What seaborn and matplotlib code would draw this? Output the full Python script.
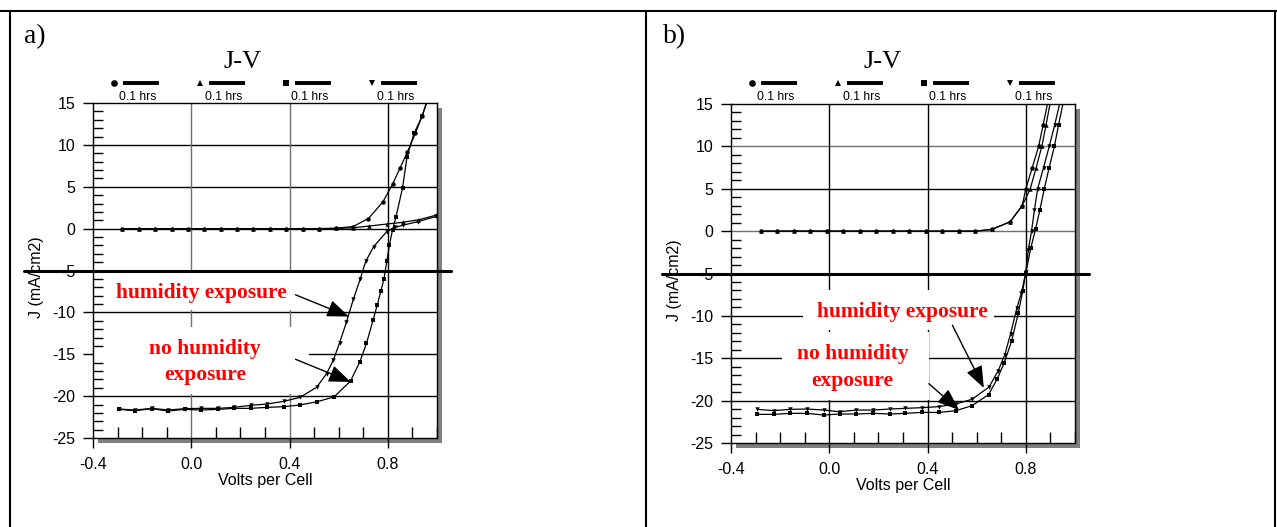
import matplotlib
matplotlib.use("Agg")
import matplotlib.pyplot as plt
import matplotlib.transforms as mtransforms
from matplotlib.lines import Line2D
from matplotlib.patches import Rectangle
from matplotlib.ticker import FixedLocator, MultipleLocator, FormatStrFormatter
import pandas as pd
import seaborn as sns

# ---------------- panel a : J-V sweeps (V per cell, J in mA/cm2) ----------------
a_dark_dry_v = [-0.28, -0.213, -0.147, -0.08, -0.013, 0.053, 0.12, 0.187, 0.253, 0.32,
                0.387, 0.453, 0.52, 0.59, 0.658, 0.721, 0.78, 0.819, 0.849, 0.879,
                0.912, 0.939, 0.96]
a_dark_dry_j = [0, 0, 0, 0, 0, 0, 0, 0, 0, 0,
                0, 0, 0, 0.05, 0.25, 1.2, 3.2, 5.3, 7.2, 9.1,
                11.4, 13.4, 15.2]

a_dark_wet_v = [-0.28, -0.213, -0.147, -0.08, -0.013, 0.053, 0.12, 0.187, 0.253, 0.32,
                0.387, 0.453, 0.52, 0.59, 0.658, 0.722, 0.796, 0.86, 0.924, 0.996]
a_dark_wet_j = [0, 0, 0, 0, 0, 0, 0, 0, 0, 0,
                0, 0, 0, 0.02, 0.1, 0.3, 0.55, 0.75, 1.05, 1.6]

a_light_wet_v = [-0.293, -0.229, -0.16, -0.095, -0.027, 0.041, 0.109, 0.173, 0.241, 0.309,
                 0.377, 0.442, 0.51, 0.551, 0.578, 0.604, 0.631, 0.66, 0.687, 0.71,
                 0.742, 0.795, 0.83, 0.86, 0.924, 0.996]
a_light_wet_j = [-21.54, -21.66, -21.46, -21.66, -21.50, -21.46, -21.46, -21.34, -21.10, -20.94,
                 -20.62, -20.15, -18.95, -17.3, -15.7, -13.6, -11.2, -8.4, -6.06, -3.9,
                 -2.16, -0.37, 0.15, 0.4, 0.85, 1.45]

a_light_dry_v = [-0.293, -0.229, -0.16, -0.095, -0.027, 0.041, 0.109, 0.173, 0.241, 0.309,
                 0.377, 0.442, 0.513, 0.581, 0.648, 0.686, 0.713, 0.74, 0.757, 0.772,
                 0.784, 0.796, 0.806, 0.819, 0.833, 0.86, 0.878, 0.907, 0.939, 0.96]
a_light_dry_j = [-21.58, -21.74, -21.50, -21.78, -21.58, -21.66, -21.58, -21.46, -21.46, -21.34,
                 -21.26, -21.06, -20.66, -20.1, -18.2, -15.9, -13.7, -10.9, -9.1, -7.4,
                 -6.0, -3.9, -2.0, -0.15, 1.4, 4.9, 8.6, 11.4, 13.4, 15.3]

# ---------------- panel b ----------------
b_dark_dry_v = [-0.279, -0.212, -0.144, -0.078, -0.009, 0.056, 0.124, 0.19, 0.258, 0.325,
                0.393, 0.46, 0.528, 0.595, 0.661, 0.736, 0.785, 0.80, 0.826, 0.852,
                0.87, 0.89]
b_dark_dry_j = [0, 0, 0, 0, 0, 0, 0, 0, 0, 0,
                0, 0, 0, 0, 0.2, 1.1, 3.0, 5.0, 7.5, 10.0,
                12.5, 15.3]

b_dark_wet_v = [-0.279, -0.212, -0.144, -0.078, -0.009, 0.056, 0.124, 0.19, 0.258, 0.325,
                0.393, 0.46, 0.528, 0.595, 0.661, 0.736, 0.785, 0.818, 0.842, 0.865,
                0.882, 0.90]
b_dark_wet_j = [0, 0, 0, 0, 0, 0, 0, 0, 0, 0,
                0, 0, 0, 0, 0.2, 1.1, 3.0, 5.0, 7.5, 10.0,
                12.5, 15.3]

b_light_wet_v = [-0.293, -0.227, -0.159, -0.091, -0.023, 0.042, 0.110, 0.178, 0.246, 0.310,
                 0.378, 0.446, 0.514, 0.58, 0.65, 0.687, 0.714, 0.738, 0.763, 0.782,
                 0.80, 0.81, 0.823, 0.835, 0.848, 0.872, 0.895, 0.917, 0.939]
b_light_wet_j = [-21.03, -21.18, -21.03, -20.99, -21.11, -21.31, -21.11, -21.11, -20.99, -20.91,
                 -20.83, -20.71, -20.4, -19.85, -18.4, -16.5, -14.6, -12.1, -9.1, -7.3,
                 -4.8, -2.2, 0.0, 2.5, 5.0, 7.5, 10.0, 12.5, 15.2]

b_light_dry_v = [-0.293, -0.227, -0.159, -0.091, -0.023, 0.042, 0.110, 0.178, 0.246, 0.310,
                 0.378, 0.446, 0.514, 0.58, 0.648, 0.684, 0.711, 0.742, 0.769, 0.787,
                 0.80, 0.82, 0.84, 0.857, 0.875, 0.895, 0.916, 0.933, 0.952]
b_light_dry_j = [-21.62, -21.62, -21.50, -21.50, -21.70, -21.58, -21.58, -21.50, -21.58, -21.50,
                 -21.39, -21.39, -21.2, -20.6, -19.3, -17.4, -15.6, -13.0, -9.7, -7.1,
                 -4.9, -2.0, 0.3, 2.5, 5.0, 7.5, 10.0, 12.5, 15.2]

# axis and legend text
x_ticks = [-0.4, 0.0, 0.4, 0.8]
y_ticks = [-25, -20, -15, -10, -5, 0, 5, 10, 15]
legend_labels = ["0.1 hrs", "0.1 hrs", "0.1 hrs", "0.1 hrs"]
series_names = ["dark, no humidity", "dark, humidity", "light, no humidity", "light, humidity"]
panel_tags = ["a)", "b)"]

# ---------------- styling ----------------
sns.set_theme(style="white")
plt.rcParams["font.family"] = ["Liberation Sans", "DejaVu Sans"]
plt.rcParams["axes.unicode_minus"] = False
SERIF = ["Liberation Serif", "DejaVu Serif"]
RED = "#ff0000"
GRAY = "#707070"
SHADOW = "#7f7f7f"
MARKERS = dict(zip(series_names, ["o", "^", "s", "v"]))


def long_frame(parts):
    rows = []
    for name, v, j in parts:
        rows.append(pd.DataFrame({"V": v, "J": j, "series": name}))
    return pd.concat(rows, ignore_index=True)


def draw_panel(fig, ax, df, gray_h, gray_v, boxes, notes, arrows, title_x, legend_y, label_y):
    ax.set_xlim(-0.4, 1.0)
    ax.set_ylim(-25, 15)
    ax.set_facecolor("white")
    ax.set_axisbelow("line")

    # grid
    for y in [-20, -15, -10, -5, 0, 5, 10]:
        ax.axhline(y, color=GRAY if y in gray_h else "black", lw=1.0, zorder=0.8)
    for x in [0.0, 0.4, 0.8]:
        ax.axvline(x, color=GRAY if x in gray_v else "black", lw=1.0, zorder=0.8)

    # white boxes behind the annotations
    for (x0, x1, y0, y1) in boxes:
        ax.add_patch(Rectangle((x0, y0), x1 - x0, y1 - y0, facecolor="white",
                               edgecolor="none", zorder=1.0))

    sns.lineplot(data=df, x="V", y="J", hue="series", style="series",
                 palette={n: "black" for n in series_names}, markers=MARKERS,
                 dashes=False, sort=False, estimator=None, legend=False, ax=ax,
                 lw=0.9, markersize=3.2, markeredgewidth=0, zorder=2)

    # ticks / frame
    ax.xaxis.set_major_locator(FixedLocator(x_ticks))
    ax.xaxis.set_major_formatter(FormatStrFormatter("%.1f"))
    ax.xaxis.set_minor_locator(MultipleLocator(0.1))
    ax.yaxis.set_major_locator(FixedLocator(y_ticks))
    ax.yaxis.set_minor_locator(MultipleLocator(1))
    ax.tick_params(which="both", bottom=True, left=True, top=False, right=False,
                   color="black", width=1.0, labelcolor="black")
    ax.tick_params(which="major", direction="out", length=7.5, labelsize=11.5)
    ax.tick_params(axis="x", which="major", pad=6)
    ax.tick_params(axis="y", which="major", pad=5)
    ax.tick_params(axis="x", which="minor", direction="in", length=8)
    ax.tick_params(axis="y", which="minor", direction="in", length=7)
    for s in ax.spines.values():
        s.set_color("black")
        s.set_linewidth(1.0)
        s.set_zorder(3)
    ax.set_xlabel("Volts per Cell", fontsize=11.5, color="black", labelpad=1)
    ax.set_ylabel("J (mA/cm2)", fontsize=11.5, color="black", labelpad=4)
    ax.yaxis.set_label_coords(-0.142, 0.48)

    # drop shadow of the plot frame
    shadow_tr = mtransforms.offset_copy(ax.transAxes, fig=fig, x=5, y=-5, units="dots")
    fig.add_artist(Rectangle((0, 0), 1, 1, transform=shadow_tr, facecolor=SHADOW,
                             edgecolor="none", zorder=-1))

    # heavy rule across the panel at J = -5
    ax.axhline(-5, xmin=-0.2, xmax=1.04, color="black", lw=2.2, clip_on=False, zorder=4)

    # title and legend row
    ax.text(title_x, label_y + 0.104, "J-V", transform=ax.transAxes, ha="center",
            va="center", fontsize=19, family=SERIF, color="black")
    for i, (m, lab) in enumerate(zip(["o", "^", "s", "v"], legend_labels)):
        x0 = 0.062 + 0.25 * i
        ax.plot([x0], [legend_y], marker=m, ms=4.8, color="black", mew=0,
                transform=ax.transAxes, clip_on=False)
        ax.plot([x0 + 0.025, x0 + 0.129], [legend_y, legend_y], color="black", lw=2.8,
                solid_capstyle="butt", transform=ax.transAxes, clip_on=False)
        ax.text(x0 + 0.068, label_y, lab, transform=ax.transAxes, ha="center",
                va="center", fontsize=8.7, color="black")

    # red annotations with arrows
    for (x, y, txt) in notes:
        ax.text(x, y, txt, ha="center", va="center", fontsize=15.5, fontweight="bold",
                family=SERIF, color=RED, linespacing=1.42, zorder=5)
    for (tail, tip) in arrows:
        ax.annotate("", xy=tip, xytext=tail, zorder=5,
                    arrowprops=dict(arrowstyle="-|>,head_length=0.9,head_width=0.35",
                                    mutation_scale=15, color="black", lw=1.0,
                                    shrinkA=0, shrinkB=0))


fig = plt.figure(figsize=(12.77, 5.27), dpi=100)
fig.patch.set_facecolor("white")
ax_a = fig.add_axes([0.07283, 0.16888, 0.26938, 0.63567])
ax_b = fig.add_axes([0.57244, 0.15939, 0.26938, 0.64326])

df_a = long_frame([(series_names[0], a_dark_dry_v, a_dark_dry_j),
                   (series_names[1], a_dark_wet_v, a_dark_wet_j),
                   (series_names[2], a_light_dry_v, a_light_dry_j),
                   (series_names[3], a_light_wet_v, a_light_wet_j)])
df_b = long_frame([(series_names[0], b_dark_dry_v, b_dark_dry_j),
                   (series_names[1], b_dark_wet_v, b_dark_wet_j),
                   (series_names[2], b_light_dry_v, b_light_dry_j),
                   (series_names[3], b_light_wet_v, b_light_wet_j)])

draw_panel(fig, ax_a, df_a, gray_h=[], gray_v=[0.0, 0.4],
           boxes=[(-0.4, 0.445, -9.75, -5.0), (-0.4, 0.478, -19.8, -11.75)],
           notes=[(0.043, -7.65, "humidity exposure"),
                  (0.057, -15.9, "no humidity\nexposure")],
           arrows=[((0.424, -7.9), (0.642, -10.5)), ((0.424, -15.6), (0.649, -18.3))],
           title_x=0.436, legend_y=1.06, label_y=1.019)
draw_panel(fig, ax_b, df_b, gray_h=[10, 0], gray_v=[],
           boxes=[(-0.106, 0.669, -11.7, -7.0), (-0.193, 0.405, -19.9, -11.9)],
           notes=[(0.297, -9.5, "humidity exposure"),
                  (0.095, -16.1, "no humidity\nexposure")],
           arrows=[((0.501, -11.1), (0.629, -18.5)), ((0.405, -18.0), (0.528, -21.1))],
           title_x=0.442, legend_y=1.063, label_y=1.021)

# panel tags
for tag, xf in zip(panel_tags, [24 / 1277, 663 / 1277]):
    fig.text(xf, 0.919, tag, fontsize=20, family=SERIF, color="black", va="baseline")

# table rules around the two panels
for (x0, y0, x1, y1) in [(0, 0.979, 1, 0.979), (0.0082, 0, 0.0082, 0.979),
                         (0.5059, 0, 0.5059, 0.979), (0.9988, 0, 0.9988, 0.979)]:
    fig.add_artist(Line2D([x0, x1], [y0, y1], transform=fig.transFigure,
                          color="black", lw=1.5))

fig.savefig("out.png", dpi=100, facecolor="white")
